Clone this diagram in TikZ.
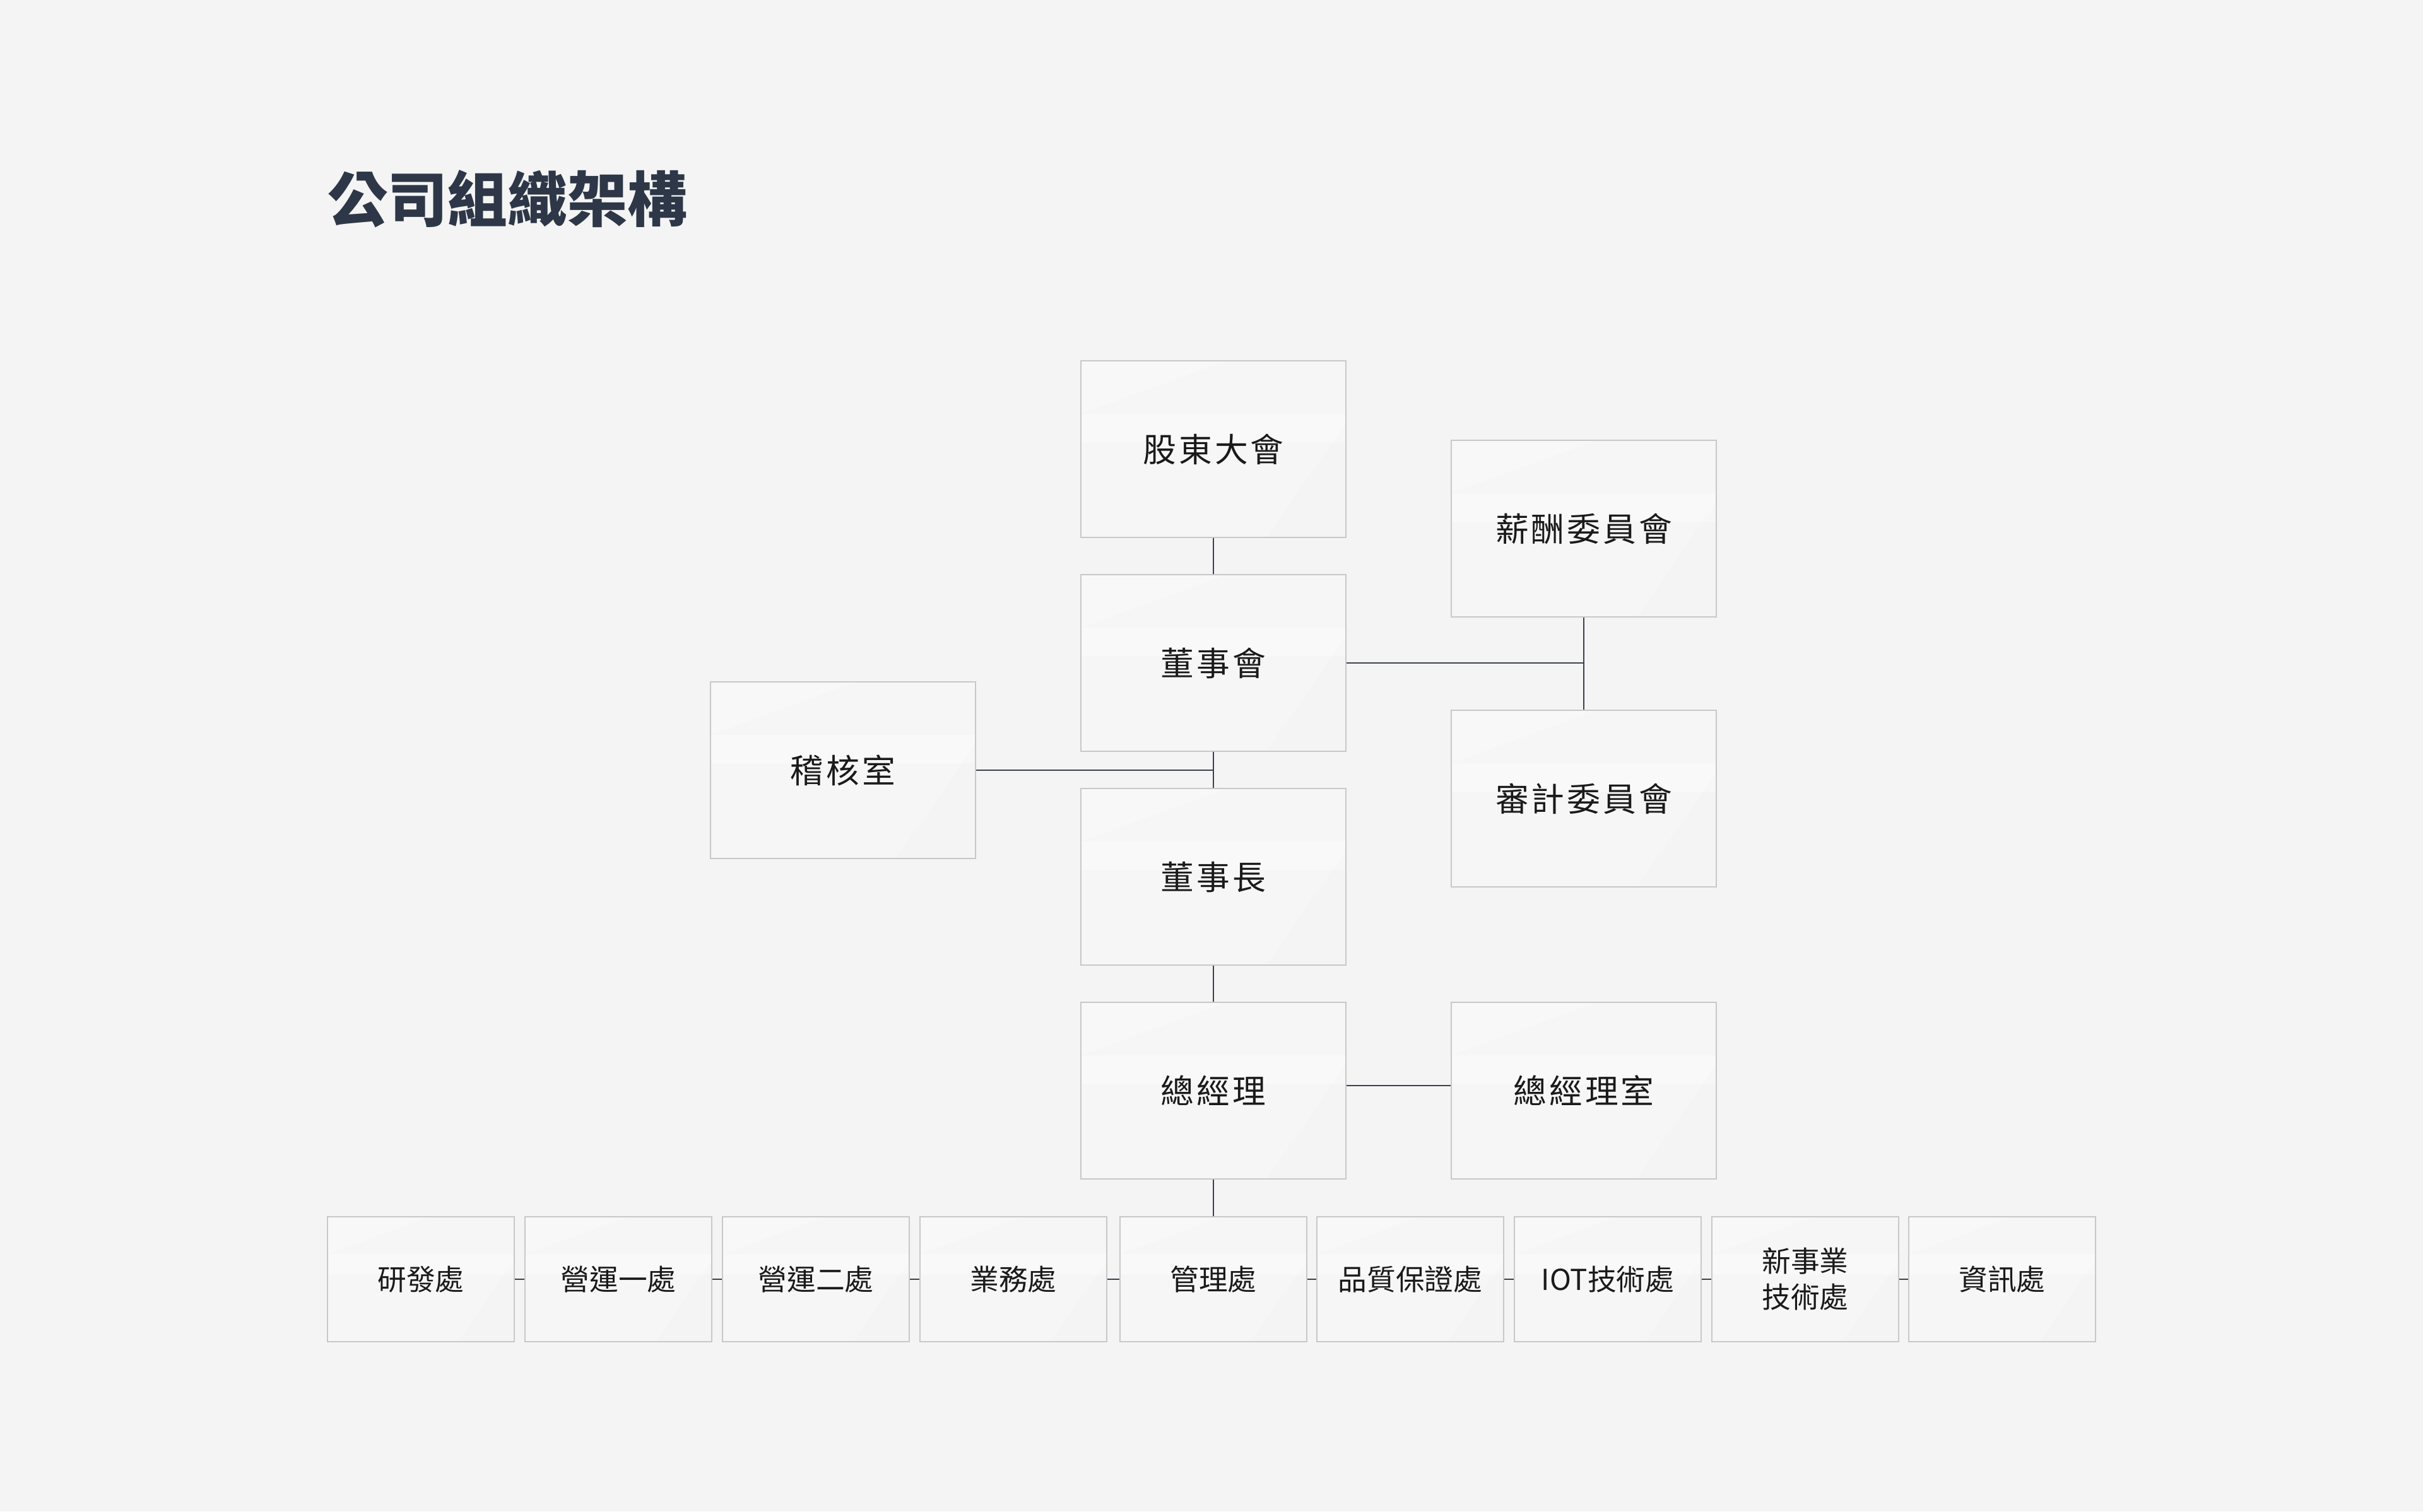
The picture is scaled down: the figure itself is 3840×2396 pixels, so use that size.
\documentclass[tikz,border=0pt]{standalone}
\usepackage{fontspec}
\usetikzlibrary{calc}
\setmainfont{Noto Sans CJK TC}
\newfontfamily\boxfont{Noto Sans CJK TC}[LetterSpace=7.5]
\definecolor{bg}{HTML}{F4F4F4}
\definecolor{boxfill}{HTML}{F6F6F6}
\definecolor{boxline}{HTML}{C8C8C8}
\definecolor{conn}{HTML}{3A414E}
\definecolor{titlec}{HTML}{2D3748}
\definecolor{txt}{HTML}{1A1A1A}
\tikzset{
  orgbox/.style={draw=boxline, line width=0.7pt, fill=boxfill, text=txt,
    inner sep=0pt, align=center,
    path picture={
      \fill[white,opacity=0.35]
        ($(path picture bounding box.north west)!0.30!(path picture bounding box.south west)$)
        rectangle
        ($(path picture bounding box.north east)!0.46!(path picture bounding box.south east)$);
      \fill[white,opacity=0.25]
        (path picture bounding box.north west) --
        ($(path picture bounding box.north west)!0.55!(path picture bounding box.north east)$) --
        ($(path picture bounding box.north west)!0.30!(path picture bounding box.south west)$) -- cycle;
      \fill[black,opacity=0.008]
        (path picture bounding box.south east) --
        ($(path picture bounding box.north east)!0.35!(path picture bounding box.south east)$) --
        ($(path picture bounding box.south west)!0.70!(path picture bounding box.south east)$) -- cycle;
    }},
  bigbox/.style={orgbox, minimum width=4.2cm, minimum height=2.8cm, font=\boxfont\fontsize{15pt}{18pt}\selectfont},
  smallbox/.style={orgbox, minimum width=2.96cm, minimum height=1.98cm, font=\fontsize{13pt}{16.2pt}\selectfont},
  link/.style={draw=conn, line width=0.8pt}
}
\begin{document}
\begin{tikzpicture}[x=0.01cm,y=-0.01cm]
\fill[bg] (0,0) rectangle (3840,2396);
\useasboundingbox (0,0) rectangle (3840,2396);

\node[anchor=west, text=titlec, font=\bfseries\fontsize{27pt}{32pt}\selectfont, inner sep=0pt] (title) at (519,315) {公司組織架構};

\node[bigbox] (sh) at (1923,712) {股東大會};
\node[bigbox] (board) at (1923,1051) {董事會};
\node[bigbox] (pay) at (2510,838) {薪酬委員會};
\node[bigbox] (audit) at (2510,1266) {審計委員會};
\node[bigbox] (internal) at (1336,1221) {稽核室};
\node[bigbox] (chair) at (1923,1390) {董事長};
\node[bigbox] (gm) at (1923,1729) {總經理};
\node[bigbox] (gmo) at (2510,1729) {總經理室};

\node[smallbox] (d1) at (667,2028) {研發處};
\node[smallbox] (d2) at (980,2028) {營運一處};
\node[smallbox] (d3) at (1293,2028) {營運二處};
\node[smallbox] (d4) at (1606,2028) {業務處};
\node[smallbox] (d5) at (1923,2028) {管理處};
\node[smallbox] (d6) at (2235,2028) {品質保證處};
\node[smallbox] (d7) at (2548,2028) {IOT技術處};
\node[smallbox] (d8) at (2861,2028) {新事業\\技術處};
\node[smallbox] (d9) at (3173,2028) {資訊處};

\coordinate (jc) at (2510,1051);
\coordinate (ji) at (1923,1221);

\draw[link] (sh.south) -- (board.north);
\draw[link] (board.east) -- (jc);
\draw[link] (pay.south) -- (audit.north);
\draw[link] (board.south) -- (chair.north);
\draw[link] (internal.east) -- (ji);
\draw[link] (chair.south) -- (gm.north);
\draw[link] ($(gm.east)+(0,-8)$) -- ($(gmo.west)+(0,-8)$);
\draw[link] (gm.south) -- (d5.north);
\foreach \a/\b in {d1/d2,d2/d3,d3/d4,d4/d5,d5/d6,d6/d7,d7/d8,d8/d9}
  \draw[link] (\a.east) -- (\b.west);
\end{tikzpicture}
\end{document}
